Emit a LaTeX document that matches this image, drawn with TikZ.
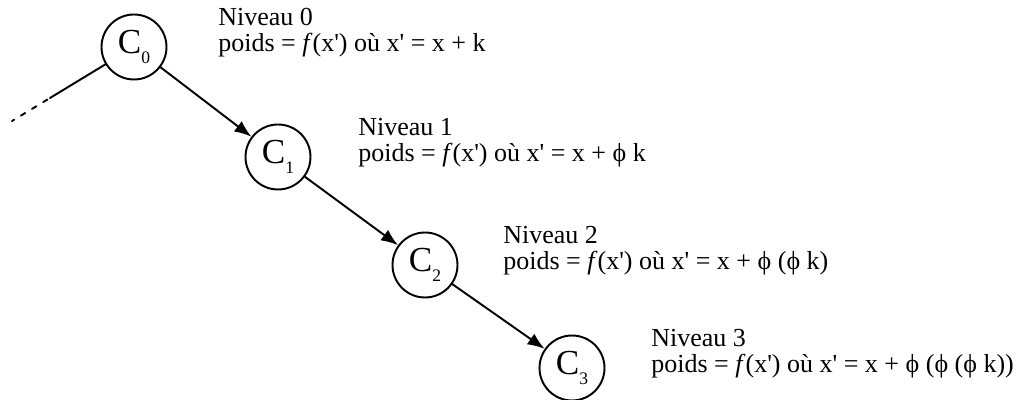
\documentclass[tikz,border=0pt]{standalone}
\usepackage{fontspec}
\setmainfont{Liberation Serif}
\usetikzlibrary{arrows.meta}
\tikzset{
  cercle/.style={draw, circle, line width=1.1pt, minimum size=1.3cm, inner sep=0pt, font=\fontsize{20}{20}\selectfont},
  etiq/.style={anchor=west, align=left, inner sep=0pt, font=\fontsize{14.8}{14.8}\selectfont},
  trait/.style={line width=1.1pt}
}
\newcommand{\Cn}[1]{C\raisebox{-0.6ex}{\fontsize{10}{10}\selectfont #1}}
\newcommand{\xp}{x\textquotesingle}
\newcommand{\fx}{\textit{f}(\xp)}
\begin{document}
\begin{tikzpicture}[>={Latex[length=3.4mm,width=2.6mm]}, line join=round, line cap=round]
    \useasboundingbox (0,0) rectangle (20.46,8);
    % les noeuds
    \node[cercle] (c0) at (2.68,7.06) {\Cn{0}};
    \node[cercle] (c1) at (5.56,4.86) {\Cn{1}};
    \node[cercle] (c2) at (8.50,2.70) {\Cn{2}};
    \node[cercle] (c3) at (11.44,0.64) {\Cn{3}};
    % les textes
    \node[etiq] (n0) at (4.36,7.34) {Niveau 0\\poids = \fx{} où \xp{} = x + k};
    \node[etiq] (n1) at (7.16,5.14) {Niveau 1\\poids = \fx{} où \xp{} = x + ϕ k};
    \node[etiq] (n2) at (10.06,2.98) {Niveau 2\\poids = \fx{} où \xp{} = x + ϕ (ϕ k)};
    \node[etiq] (n3) at (13.02,0.92) {Niveau 3\\poids = \fx{} où \xp{} = x + ϕ (ϕ (ϕ k))};
    % les liens
    \coordinate (a) at (1.0,6.04);
    \coordinate (b) at (0.24,5.58);
    \draw[trait] (c0) -- (a);
    \draw[trait, dash pattern=on 0.1cm off 0.16cm, dash phase=0.2cm] (a) -- (b);
    \draw[trait, ->] (c0) -- (c1);
    \draw[trait, ->] (c1) -- (c2);
    \draw[trait, ->] (c2) -- (c3);
\end{tikzpicture}
\end{document}
